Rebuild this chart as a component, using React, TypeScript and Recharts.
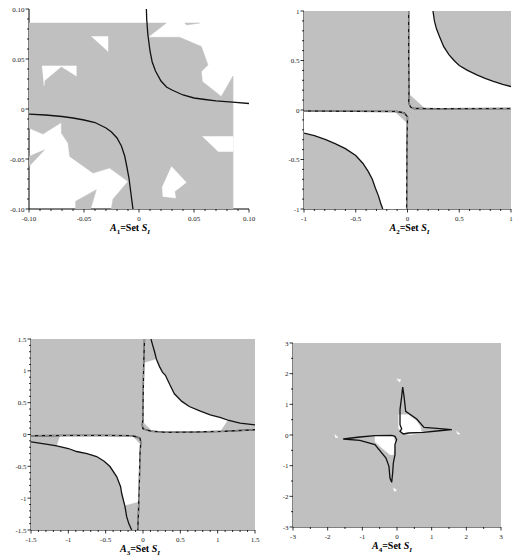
import { ScatterChart, Scatter, XAxis, YAxis, Label } from "recharts";

type Pt = [number, number];

// ---- panel 1 : A1 (range ±0.10)
const P1_TICKS = [-0.1, -0.09, -0.08, -0.07, -0.06, -0.05, -0.04, -0.03, -0.02, -0.01, 0, 0.01, 0.02, 0.03, 0.04, 0.05, 0.06, 0.07, 0.08, 0.09, 0.1];
const P1_MAJOR = [-0.1, -0.05, 0, 0.05, 0.1];
const P1_LABELS = ["-0.10", "-0.05", "0", "0.05", "0.10"];
const P1_GRAY_MAIN: Pt[] = [
  [-0.1, 0.086], [0.0248, 0.086], [0.0082, 0.0717], [0.037, 0.0717], [0.0567, 0.0624], [0.0627, 0.0441],
  [0.0567, 0.0374], [0.0576, 0.0275], [0.0748, 0.0125], [0.0855, 0.033], [0.0855, -0.1], [-0.0252, -0.1],
  [-0.0236, -0.09], [-0.01, -0.0724], [-0.0267, -0.0591], [-0.0418, -0.0641], [-0.063, -0.0474],
  [-0.0645, -0.0341], [-0.0706, -0.0241], [-0.0706, -0.0135], [-0.0873, -0.0251], [-0.1, -0.0191],
];
const P1_GRAY_LEFT: Pt[] = [[-0.1, -0.0474], [-0.0858, -0.0408], [-0.1, -0.0574]];
const P1_GRAY_BOTTOM: Pt[] = [[-0.0576, -0.1], [-0.0576, -0.0923], [-0.0388, -0.0807], [-0.044, -0.1]];
const P1_GRAY_TOP: Pt[] = [[0.0415, 0.086], [0.0552, 0.086], [0.043, 0.084]];
const P1_WHITE_TOP: Pt[] = [[-0.0433, 0.0724], [-0.0282, 0.0724], [-0.0282, 0.0574]];
const P1_WHITE_LEFT: Pt[] = [[-0.0882, 0.0431], [-0.057, 0.0431], [-0.057, 0.0331], [-0.0706, 0.0424], [-0.0858, 0.0284], [-0.0864, 0.0231]];
const P1_WHITE_RIGHT: Pt[] = [[0.0576, -0.0275], [0.0855, -0.0275], [0.0855, -0.0424], [0.0718, -0.0424]];
const P1_WHITE_BOTTOM: Pt[] = [[0.0294, -0.0574], [0.043, -0.0734], [0.0324, -0.0824], [0.0333, -0.089], [0.0218, -0.0874], [0.0212, -0.0774]];
const P1_CURVE_UR: Pt[] = [
  [0.0067, 0.1], [0.007, 0.09], [0.008, 0.075], [0.01, 0.058], [0.012, 0.047], [0.015, 0.038], [0.02, 0.028],
  [0.025, 0.022], [0.03, 0.019], [0.04, 0.014], [0.05, 0.011], [0.06, 0.0095], [0.07, 0.0082], [0.085, 0.0068], [0.1, 0.0055],
];
const P1_CURVE_LL: Pt[] = [
  [-0.1, -0.0052], [-0.085, -0.006], [-0.07, -0.0075], [-0.06, -0.009], [-0.05, -0.011], [-0.04, -0.0135],
  [-0.03, -0.019], [-0.025, -0.023], [-0.02, -0.029], [-0.016, -0.037], [-0.013, -0.047], [-0.011, -0.058],
  [-0.009, -0.07], [-0.0075, -0.083], [-0.0055, -0.1],
];

// ---- panel 2 : A2 (range ±1)
const P2_TICKS = [-1, -0.9, -0.8, -0.7, -0.6, -0.5, -0.4, -0.3, -0.2, -0.1, 0, 0.1, 0.2, 0.3, 0.4, 0.5, 0.6, 0.7, 0.8, 0.9, 1];
const P2_MAJOR = [-1, -0.5, 0, 0.5, 1];
const P2_LABELS = ["-1", "-0.5", "0", "0.5", "1"];
const P2_GRAY: Pt[] = [[-1, 1], [1, 1], [1, -1], [-1, -1]];
const P2_WHITE_UR: Pt[] = [
  [0.015, 1], [0.246, 1], [0.26, 0.9], [0.28, 0.82], [0.31, 0.74], [0.35, 0.64], [0.4, 0.56], [0.45, 0.5],
  [0.5, 0.45], [0.58, 0.4], [0.67, 0.355], [0.75, 0.32], [0.83, 0.29], [0.92, 0.26], [1, 0.237], [1, 0.015],
  [0.17, 0.018], [0.02, 0.16],
];
const P2_WHITE_LL: Pt[] = [
  [-1, -0.01], [-0.13, -0.012], [-0.01, -0.13], [-0.008, -1], [-0.239, -1], [-0.26, -0.94], [-0.28, -0.87],
  [-0.31, -0.79], [-0.34, -0.7], [-0.38, -0.62], [-0.43, -0.54], [-0.5, -0.46], [-0.6, -0.39], [-0.7, -0.34],
  [-0.79, -0.3], [-0.9, -0.26], [-1, -0.234],
];
const P2_CURVE_UR: Pt[] = [
  [0.246, 1], [0.26, 0.9], [0.28, 0.82], [0.31, 0.74], [0.35, 0.64], [0.4, 0.56], [0.45, 0.5], [0.5, 0.45],
  [0.58, 0.4], [0.67, 0.355], [0.75, 0.32], [0.83, 0.29], [0.92, 0.26], [1, 0.237],
];
const P2_CURVE_LL: Pt[] = [
  [-1, -0.234], [-0.9, -0.26], [-0.79, -0.3], [-0.7, -0.34], [-0.6, -0.39], [-0.5, -0.46], [-0.43, -0.54],
  [-0.38, -0.62], [-0.34, -0.7], [-0.31, -0.79], [-0.28, -0.87], [-0.26, -0.94], [-0.239, -1],
];
const P2_LINE_UR: Pt[] = [[0.012, 1], [0.012, 0.5], [0.015, 0.2], [0.012, 0.07], [0.03, 0.03], [0.06, 0.015], [0.3, 0.012], [1, 0.015]];
const P2_LINE_LL: Pt[] = [[-1, -0.01], [-0.5, -0.012], [-0.1, -0.015], [-0.03, -0.03], [0, -0.07], [-0.005, -0.3], [-0.008, -1]];

// ---- panel 3 : A3 (range ±1.5)
const P3_TICKS = [-1.5, -1.4, -1.3, -1.2, -1.1, -1, -0.9, -0.8, -0.7, -0.6, -0.5, -0.4, -0.3, -0.2, -0.1, 0, 0.1, 0.2, 0.3, 0.4, 0.5, 0.6, 0.7, 0.8, 0.9, 1, 1.1, 1.2, 1.3, 1.4, 1.5];
const P3_MAJOR = [-1.5, -1, -0.5, 0, 0.5, 1, 1.5];
const P3_LABELS = ["-1.5", "-1", "-0.5", "0", "0.5", "1", "1.5"];
const P3_GRAY: Pt[] = [[-1.5, 1.5], [1.5, 1.5], [1.5, -1.5], [-1.5, -1.5]];
const P3_WHITE_UR: Pt[] = [
  [0.005, 1.12], [0.18, 1.18], [0.22, 1.07], [0.26, 0.98], [0.3, 0.93], [0.36, 0.78], [0.42, 0.64], [0.52, 0.52],
  [0.62, 0.44], [0.76, 0.37], [0.9, 0.31], [1.03, 0.27], [1.13, 0.22], [1.03, 0.045], [0.2, 0.035], [0.13, 0.05], [0, 0.2],
];
const P3_WHITE_LL: Pt[] = [
  [-1.11, -0.02], [-0.15, -0.02], [-0.04, -0.15], [-0.045, -1.05], [-0.24, -1.11], [-0.286, -0.923], [-0.3, -0.82],
  [-0.353, -0.661], [-0.442, -0.503], [-0.52, -0.42], [-0.621, -0.346], [-0.75, -0.3], [-0.888, -0.267], [-1, -0.22], [-1.156, -0.178],
];
const P3_CURVE_UR: Pt[] = [
  [0.107, 1.5], [0.13, 1.4], [0.155, 1.3], [0.18, 1.18], [0.22, 1.07], [0.26, 0.98], [0.3, 0.93], [0.36, 0.78],
  [0.42, 0.64], [0.52, 0.52], [0.62, 0.44], [0.76, 0.37], [0.9, 0.31], [1.03, 0.27], [1.15, 0.22], [1.3, 0.18], [1.5, 0.15],
];
const P3_CURVE_LL: Pt[] = [
  [-1.5, -0.115], [-1.3, -0.15], [-1.156, -0.178], [-1, -0.22], [-0.888, -0.267], [-0.75, -0.3], [-0.621, -0.346],
  [-0.52, -0.42], [-0.442, -0.503], [-0.353, -0.661], [-0.3, -0.82], [-0.286, -0.923], [-0.241, -1.133],
  [-0.219, -1.29], [-0.19, -1.4], [-0.152, -1.5],
];
const P3_LINE_UR: Pt[] = [
  [0.02, 1.5], [0.012, 1.2], [0.005, 0.8], [0, 0.4], [0, 0.23], [-0.01, 0.15], [0, 0.09], [0.05, 0.07],
  [0.12, 0.05], [0.3, 0.035], [0.7, 0.04], [1.1, 0.05], [1.5, 0.075],
];
const P3_LINE_LL: Pt[] = [
  [-1.5, -0.02], [-1, -0.015], [-0.5, -0.015], [-0.15, -0.02], [-0.09, -0.036], [-0.04, -0.06], [-0.03, -0.12],
  [-0.04, -0.3], [-0.05, -0.8], [-0.06, -1.2], [-0.07, -1.5],
];

// ---- panel 4 : A4 (range ±3)
const P4_TICKS = [-3, -2.5, -2, -1.5, -1, -0.5, 0, 0.5, 1, 1.5, 2, 2.5, 3];
const P4_MAJOR = [-3, -2, -1, 0, 1, 2, 3];
const P4_LABELS = ["-3", "-2", "-1", "0", "1", "2", "3"];
const P4_GRAY: Pt[] = [[-3, 3], [3, 3], [3, -3], [-3, -3]];
const P4_WHITE_UR: Pt[] = [[0.04, 0.66], [0.33, 0.66], [0.57, 0.45], [0.67, 0.28], [0.71, 0.07], [0.38, 0.01], [0.14, 0.07], [0.09, 0.17], [0.04, 0.23]];
const P4_WHITE_LL: Pt[] = [[-0.64, -0.02], [-0.11, -0.04], [-0.06, -0.21], [-0.1, -0.64], [-0.2, -0.64], [-0.49, -0.37], [-0.64, -0.21]];
const P4_MARK_N: Pt[] = [[-0.01, 1.83], [0.11, 1.8], [0.07, 1.72]];
const P4_MARK_E: Pt[] = [[1.71, 0.12], [1.82, 0.03], [1.74, 0.03]];
const P4_MARK_W: Pt[] = [[-1.8, 0.02], [-1.7, -0.08], [-1.78, -0.08]];
const P4_MARK_S: Pt[] = [[-0.11, -1.72], [-0.01, -1.8], [-0.08, -1.84]];
const P4_STAR_UR: Pt[] = [
  [0.164, 1.565], [0.203, 1.261], [0.251, 0.772], [0.569, 0.52], [0.78, 0.25], [1.148, 0.217], [1.582, 0.174],
  [1.148, 0.13], [0.762, 0.087], [0.328, 0.065], [0.183, 0.033], [0.087, 0.12], [0.135, 0.196], [0.087, 0.337],
  [0.087, 0.83], [0.135, 1.26], [0.164, 1.565],
];
const P4_STAR_LL: Pt[] = [
  [-1.553, -0.13], [-1.071, -0.065], [-0.637, -0.022], [-0.154, -0.011], [-0.058, -0.043], [-0.01, -0.152],
  [-0.058, -0.315], [-0.058, -0.64], [-0.106, -0.913], [-0.125, -1.24], [-0.154, -1.543], [-0.203, -1.402],
  [-0.232, -1.022], [-0.318, -0.75], [-0.637, -0.315], [-1.071, -0.174], [-1.553, -0.13],
];

const GRAY = "#c0c0c0";
const FONT = "'Liberation Serif', 'DejaVu Serif', serif";

const rows = (pts: Pt[]) => pts.map(([x, y]) => ({ x, y }));
const NoDot = () => <g />;

function majorIndex(v: number, majors: number[]) {
  return majors.findIndex((m) => Math.abs(m - v) < 1e-9);
}

function XTick(props: any) {
  const { x, y, payload, majors, labels } = props;
  const i = majorIndex(payload.value, majors);
  return (
    <g>
      <line x1={x} x2={x} y1={y} y2={y + (i >= 0 ? 3.5 : 2)} stroke="#000" strokeWidth={0.8} />
      {i >= 0 && (
        <text x={x} y={y + 11.5} textAnchor="middle" fontSize={7} fontFamily={FONT} fill="#222">
          {labels[i]}
        </text>
      )}
    </g>
  );
}

function YTick(props: any) {
  const { x, y, payload, majors, labels } = props;
  const i = majorIndex(payload.value, majors);
  return (
    <g>
      <line x1={x} x2={x - (i >= 0 ? 3.5 : 2)} y1={y} y2={y} stroke="#000" strokeWidth={0.8} />
      {i >= 0 && (
        <text x={x - 4.5} y={y + 2.5} textAnchor="end" fontSize={7} fontFamily={FONT} fill="#222">
          {labels[i]}
        </text>
      )}
    </g>
  );
}

function Title({ viewBox, n, dx }: any) {
  const cx = viewBox.x + viewBox.width / 2 + dx;
  return (
    <text x={cx} y={viewBox.y + 22} textAnchor="middle" fontFamily={FONT} fontSize={10} fontWeight="bold" fill="#000">
      <tspan fontStyle="italic">A</tspan>
      <tspan fontSize={7} dy={2.5}>{n}</tspan>
      <tspan dy={-2.5}>=Set </tspan>
      <tspan fontStyle="italic">S</tspan>
      <tspan fontStyle="italic" fontSize={7} dy={2.5}>I</tspan>
    </text>
  );
}

interface PanelProps {
  left: number;
  top: number;
  width: number;
  height: number;
  margin: { top: number; right: number; bottom: number; left: number };
  yWidth: number;
  xHeight: number;
  domain: [number, number];
  ticks: number[];
  majors: number[];
  labels: string[];
  n: string;
  titleDx: number;
  grays: Pt[][];
  whites: Pt[][];
  bounds: Pt[][];
  curves: Pt[][];
}

function Panel(p: PanelProps) {
  return (
    <div style={{ position: "absolute", left: p.left, top: p.top }}>
      <ScatterChart width={p.width} height={p.height} margin={p.margin}>
        <XAxis
          type="number"
          dataKey="x"
          domain={p.domain}
          ticks={p.ticks}
          interval={0}
          tickSize={0}
          tickMargin={0}
          height={p.xHeight}
          axisLine={{ stroke: "#000", strokeWidth: 1 }}
          tickLine={false}
          allowDataOverflow
          tick={(t: any) => <XTick {...t} majors={p.majors} labels={p.labels} />}
        >
          <Label content={(lp: any) => <Title viewBox={lp.viewBox} n={p.n} dx={p.titleDx} />} />
        </XAxis>
        <YAxis
          type="number"
          dataKey="y"
          domain={p.domain}
          ticks={p.ticks}
          interval={0}
          tickSize={0}
          tickMargin={0}
          width={p.yWidth}
          axisLine={{ stroke: "#000", strokeWidth: 1 }}
          tickLine={false}
          allowDataOverflow
          tick={(t: any) => <YTick {...t} majors={p.majors} labels={p.labels} />}
        />
        {p.grays.map((g, i) => (
          <Scatter key={`g${i}`} data={rows(g)} isAnimationActive={false} shape={NoDot}
            line={{ fill: GRAY, stroke: GRAY, strokeWidth: 0.5 }} lineJointType="linear" />
        ))}
        {p.whites.map((w, i) => (
          <Scatter key={`w${i}`} data={rows(w)} isAnimationActive={false} shape={NoDot}
            line={{ fill: "#fff", stroke: "#fff", strokeWidth: 0.5 }} lineJointType="linear" />
        ))}
        {p.bounds.map((b, i) => (
          <Scatter key={`b${i}`} data={rows(b)} isAnimationActive={false} shape={NoDot}
            line={{ fill: "none", stroke: "#111", strokeWidth: 1.4 }} lineJointType="linear" />
        ))}
        {p.bounds.map((b, i) => (
          <Scatter key={`d${i}`} data={rows(b)} isAnimationActive={false} shape={NoDot}
            line={{ fill: "none", stroke: "#fff", strokeWidth: 0.6, strokeDasharray: "4 3" }} lineJointType="linear" />
        ))}
        {p.curves.map((c, i) => (
          <Scatter key={`c${i}`} data={rows(c)} isAnimationActive={false} shape={NoDot}
            line={{ fill: "none", stroke: "#111", strokeWidth: 1.3 }} lineJointType="linear" />
        ))}
      </ScatterChart>
    </div>
  );
}

export default function App() {
  return (
    <div style={{ position: "absolute", left: 0, top: 0, width: 527, height: 559, background: "#fff" }}>
      <Panel
        left={0} top={0} width={260} height={240}
        margin={{ top: 9, right: 11, bottom: 1, left: 0 }} yWidth={29} xHeight={30}
        domain={[-0.1, 0.1]} ticks={P1_TICKS} majors={P1_MAJOR} labels={P1_LABELS} n="1" titleDx={-9}
        grays={[P1_GRAY_MAIN, P1_GRAY_LEFT, P1_GRAY_BOTTOM, P1_GRAY_TOP]}
        whites={[P1_WHITE_TOP, P1_WHITE_LEFT, P1_WHITE_RIGHT, P1_WHITE_BOTTOM]}
        bounds={[]}
        curves={[P1_CURVE_UR, P1_CURVE_LL]}
      />
      <Panel
        left={260} top={0} width={267} height={240}
        margin={{ top: 11, right: 16, bottom: 1, left: 0 }} yWidth={44} xHeight={30}
        domain={[-1, 1]} ticks={P2_TICKS} majors={P2_MAJOR} labels={P2_LABELS} n="2" titleDx={2}
        grays={[P2_GRAY]}
        whites={[P2_WHITE_UR, P2_WHITE_LL]}
        bounds={[P2_LINE_UR, P2_LINE_LL]}
        curves={[P2_CURVE_UR, P2_CURVE_LL]}
      />
      <Panel
        left={0} top={330} width={260} height={229}
        margin={{ top: 9, right: 5, bottom: 1, left: 0 }} yWidth={31} xHeight={28}
        domain={[-1.5, 1.5]} ticks={P3_TICKS} majors={P3_MAJOR} labels={P3_LABELS} n="3" titleDx={-3}
        grays={[P3_GRAY]}
        whites={[P3_WHITE_UR, P3_WHITE_LL]}
        bounds={[P3_LINE_UR, P3_LINE_LL]}
        curves={[P3_CURVE_UR, P3_CURVE_LL]}
      />
      <Panel
        left={260} top={330} width={267} height={229}
        margin={{ top: 13, right: 26, bottom: 2, left: 0 }} yWidth={33} xHeight={30}
        domain={[-3, 3]} ticks={P4_TICKS} majors={P4_MAJOR} labels={P4_LABELS} n="4" titleDx={-5}
        grays={[P4_GRAY]}
        whites={[P4_WHITE_UR, P4_WHITE_LL, P4_MARK_N, P4_MARK_E, P4_MARK_W, P4_MARK_S]}
        bounds={[]}
        curves={[P4_STAR_UR, P4_STAR_LL]}
      />
    </div>
  );
}
